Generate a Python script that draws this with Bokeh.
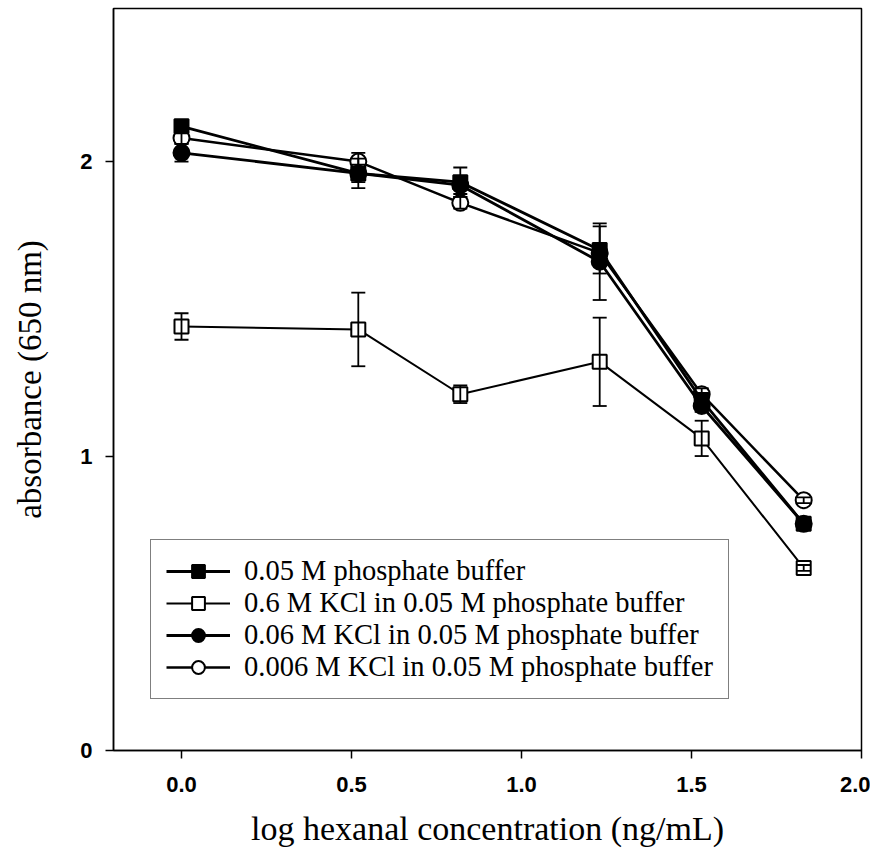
from bokeh.plotting import figure
from bokeh.models import ColumnDataSource, Whisker, TeeHead, Legend, LegendItem, FixedTicker
from bokeh.embed import file_html
from bokeh.resources import INLINE

# log hexanal concentration (ng/mL)
x_vals = [0.0, 0.52, 0.82, 1.23, 1.53, 1.83]

series_names = [
    "0.05 M phosphate buffer",
    "0.6 M KCl in 0.05 M phosphate buffer",
    "0.06 M KCl in 0.05 M phosphate buffer",
    "0.006 M KCl in 0.05 M phosphate buffer",
]

# absorbance (650 nm)
y_phosphate = [2.12, 1.96, 1.93, 1.70, 1.19, 0.77]
err_phosphate = [0.02, 0.03, 0.05, 0.08, 0.02, 0.01]

y_kcl_06 = [1.44, 1.43, 1.21, 1.32, 1.06, 0.62]
err_kcl_06 = [0.045, 0.125, 0.03, 0.15, 0.06, 0.01]

y_kcl_006 = [2.03, 1.96, 1.92, 1.66, 1.17, 0.77]
err_kcl_006 = [0.03, 0.05, 0.03, 0.13, 0.02, 0.01]

y_kcl_0006 = [2.08, 2.00, 1.86, 1.69, 1.21, 0.85]
err_kcl_0006 = [0.02, 0.03, 0.02, 0.03, 0.02, 0.01]

x_ticks = [0.0, 0.5, 1.0, 1.5, 2.0]
y_ticks = [0, 1, 2]

p = figure(
    frame_width=748, frame_height=742,
    x_range=(-0.2, 2.0), y_range=(0, 2.52),
    output_backend="svg", toolbar_location=None,
    min_border_left=113, min_border_right=9, min_border_top=8, min_border_bottom=96,
    background_fill_color="white", border_fill_color="white",
)
p.outline_line_color = "black"
p.outline_line_width = 1.5
p.xgrid.visible = False
p.ygrid.visible = False

for ax in (p.xaxis[0], p.yaxis[0]):
    ax.axis_line_color = "black"
    ax.axis_line_width = 1.5
    ax.major_tick_line_width = 1.5
    ax.major_tick_line_color = "black"
    ax.major_tick_in = 0
    ax.major_tick_out = 8
    ax.minor_tick_line_color = None
    ax.major_label_text_font = "Liberation Sans"
    ax.major_label_text_font_style = "bold"
    ax.major_label_text_font_size = "22px"
    ax.major_label_text_color = "black"
    ax.axis_label_text_font = "Liberation Serif"
    ax.axis_label_text_font_style = "normal"
    ax.axis_label_text_color = "black"

p.xaxis.ticker = FixedTicker(ticks=x_ticks)
p.xaxis.major_label_overrides = {t: f"{t:.1f}" for t in x_ticks}
p.xaxis.major_label_standoff = 18
p.xaxis.axis_label = "log hexanal concentration (ng/mL)"
p.xaxis.axis_label_text_font_size = "34px"
p.xaxis.axis_label_standoff = 15

p.yaxis.ticker = FixedTicker(ticks=y_ticks)
p.yaxis.major_label_standoff = 13
p.yaxis.axis_label = "absorbance (650 nm)"
p.yaxis.axis_label_text_font_size = "33px"
p.yaxis.axis_label_standoff = 29

specs = [
    (series_names[1], y_kcl_06, err_kcl_06, "square", 14, "white", 2.0),
    (series_names[3], y_kcl_0006, err_kcl_0006, "circle", 16, "white", 2.5),
    (series_names[2], y_kcl_006, err_kcl_006, "circle", 16, "black", 2.8),
    (series_names[0], y_phosphate, err_phosphate, "square", 14, "black", 2.8),
]

legend_map = {}
for name, ys, errs, marker, size, fill, lw in specs:
    src = ColumnDataSource(dict(
        x=x_vals, y=ys,
        upper=[a + b for a, b in zip(ys, errs)],
        lower=[a - b for a, b in zip(ys, errs)],
    ))
    ln = p.line("x", "y", source=src, line_color="black", line_width=lw)
    mk = p.scatter("x", "y", source=src, marker=marker, size=size,
                   fill_color=fill, line_color="black", line_width=2)
    w = Whisker(source=src, base="x", upper="upper", lower="lower",
                line_color="black", line_width=1.8, level="glyph",
                upper_head=TeeHead(size=14, line_color="black", line_width=1.8),
                lower_head=TeeHead(size=14, line_color="black", line_width=1.8))
    p.add_layout(w)
    legend_map[name] = [ln, mk]

legend = Legend(
    items=[LegendItem(label=n, renderers=legend_map[n]) for n in series_names],
    location=(37, 51),
    label_text_font="Liberation Serif",
    label_text_font_size="28.5px",
    label_text_color="black",
    glyph_width=64, glyph_height=32, label_height=32,
    label_standoff=14, spacing=0, padding=15, margin=0,
    border_line_color="black", border_line_width=1.5,
    background_fill_color="white", background_fill_alpha=1.0,
)
p.add_layout(legend, "center")

open("out.html", "w").write(file_html(p, INLINE))
